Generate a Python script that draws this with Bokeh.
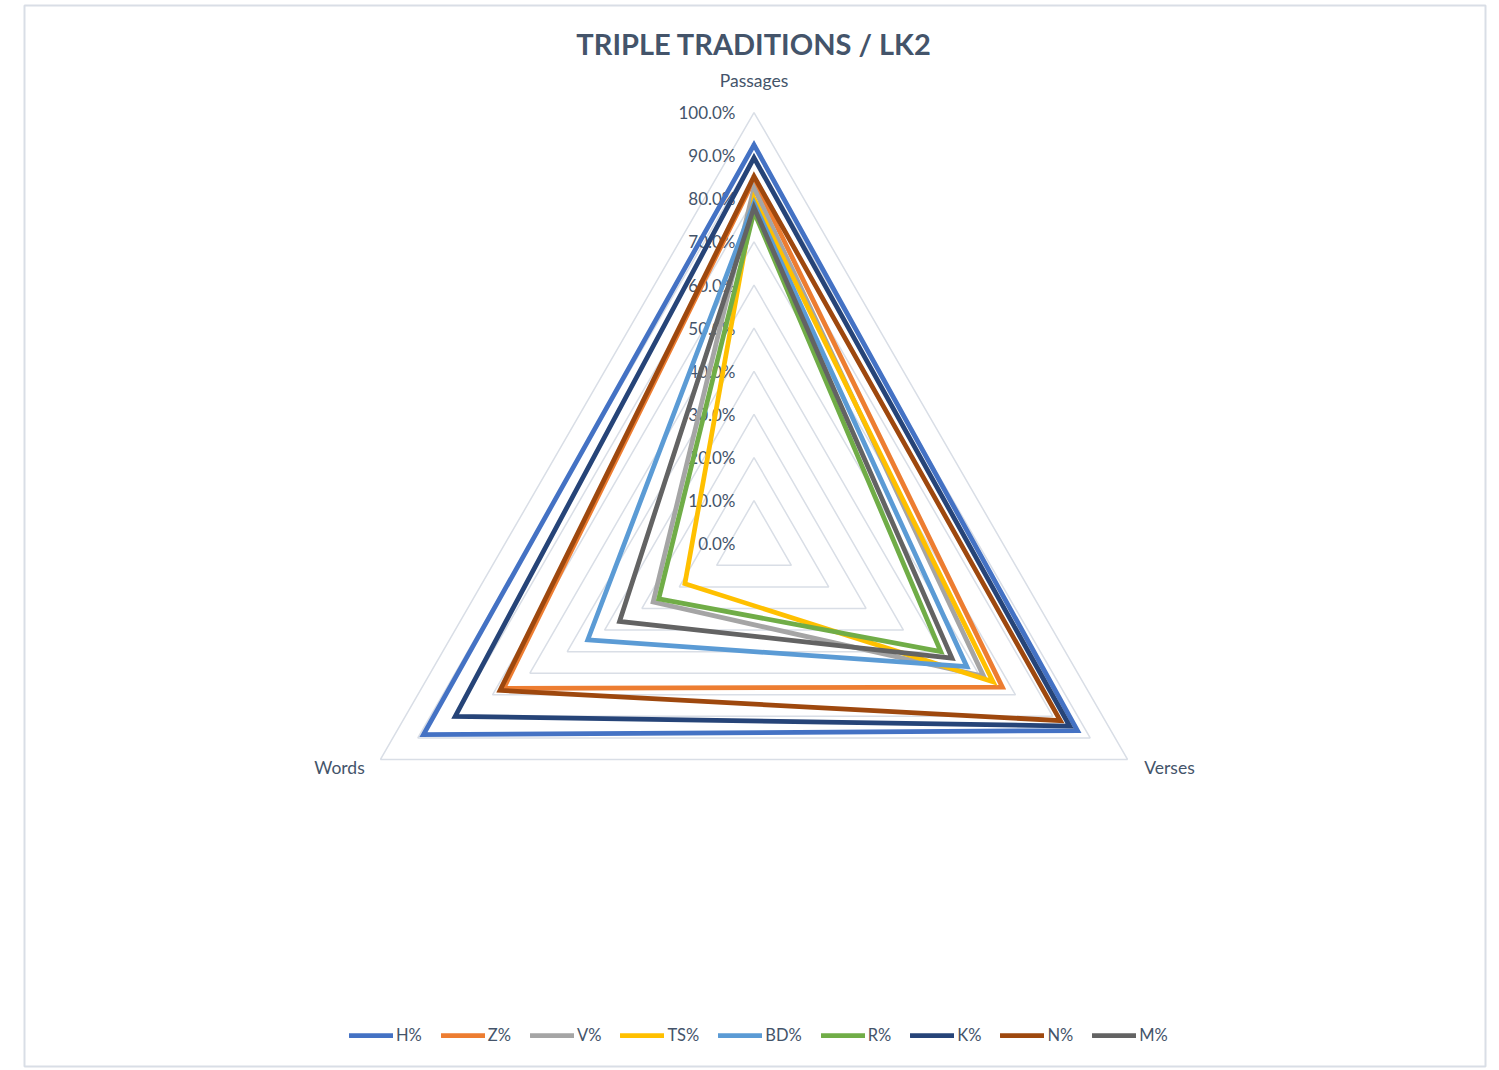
import math
from bokeh.plotting import figure
from bokeh.models import Range1d, Legend, LegendItem
from bokeh.core.properties import value
from bokeh.embed import file_html
from bokeh.resources import INLINE

# ---------------- data ----------------
categories = ["Passages", "Verses", "Words"]
series_names = ["H%", "Z%", "V%", "TS%", "BD%", "R%", "K%", "N%", "M%"]
passages = [0.925, 0.845, 0.825, 0.800, 0.790, 0.770, 0.895, 0.852, 0.780]
verses   = [0.866, 0.665, 0.615, 0.640, 0.570, 0.500, 0.845, 0.820, 0.530]
words    = [0.885, 0.670, 0.270, 0.185, 0.445, 0.255, 0.800, 0.680, 0.360]
colors = ["#4472C4", "#ED7D31", "#A5A5A5", "#FFC000", "#5B9BD5",
          "#70AD47", "#264478", "#9E480E", "#636363"]
tick_values = [0.0, 0.1, 0.2, 0.3, 0.4, 0.5, 0.6, 0.7, 0.8, 0.9, 1.0]
tick_labels = ["0.0%", "10.0%", "20.0%", "30.0%", "40.0%", "50.0%",
               "60.0%", "70.0%", "80.0%", "90.0%", "100.0%"]
title_text = "TRIPLE TRADITIONS / LK2"

# ---------------- layout ----------------
W, H = 1495, 1068
SCALE = 431.3            # pixels per 100 %
CX, CY = 753.5, 543.3    # centre of the radar in canvas pixels
TEXT = "#44546A"
GRID = "#D9DEE6"
FONT = "Lato"

def px(x, y):
    """canvas pixel -> data coordinates"""
    return (x - CX) / SCALE, (CY - y) / SCALE

angles = [90.0, -30.0, 210.0]   # Passages, Verses, Words

def pt(v, a):
    r = math.radians(a)
    return v * math.cos(r), v * math.sin(r)

p = figure(width=W, height=H, output_backend="svg", toolbar_location=None,
           x_range=Range1d(-CX / SCALE, (W - CX) / SCALE),
           y_range=Range1d((CY - H) / SCALE, CY / SCALE),
           min_border=0, border_fill_color="white", background_fill_color="white")
p.axis.visible = False
p.grid.visible = False
p.outline_line_color = None

# outer border
bx0, by0 = px(24, 5)
bx1, by1 = px(1485, 1066)
p.quad(left=bx0, right=bx1, top=by0, bottom=by1, fill_color=None,
       line_color="#D9DEE6", line_width=2)

# grid rings
for v in tick_values[1:]:
    xs = [pt(v, a)[0] for a in angles]
    ys = [pt(v, a)[1] for a in angles]
    p.patch(xs, ys, fill_color=None, line_color=GRID, line_width=1.5)

# tick labels
lx, _ = px(735, 0)
p.text(x=[lx] * len(tick_values), y=tick_values, text=tick_labels,
       text_align="right", text_baseline="middle", text_color=TEXT,
       text_font=value(FONT), text_font_size="17px")

# category labels
cat_pos = [px(753.5, 80), px(1169, 767), px(339, 767)]
p.text(x=[c[0] for c in cat_pos], y=[c[1] for c in cat_pos], text=categories,
       text_align="center", text_baseline="middle", text_color=TEXT,
       text_font=value(FONT), text_font_size="17.5px")

# title
tx, ty = px(753.5, 43)
p.text(x=[tx], y=[ty], text=[title_text], text_align="center",
       text_baseline="middle", text_color=TEXT, text_font=value(FONT),
       text_font_size="29px", text_font_style="bold")

# series
items = []
for i, name in enumerate(series_names):
    vals = [passages[i], verses[i], words[i]]
    pts = [pt(v, a) for v, a in zip(vals, angles)]
    pts = pts + pts[:2]   # wrap so every corner gets a mitred join
    r = p.line([q[0] for q in pts], [q[1] for q in pts], line_color=colors[i],
               line_width=4.75, line_join="miter", line_cap="round")
    items.append(LegendItem(label=name, renderers=[r]))

legend = Legend(items=items, orientation="horizontal", location=(349, 23),
                glyph_width=44, glyph_height=20, label_height=20,
                label_standoff=3, spacing=19, padding=0, margin=0,
                label_text_font=FONT, label_text_font_size="16.5px",
                label_text_color=TEXT, border_line_color=None,
                background_fill_alpha=0)
p.add_layout(legend, "center")

open("out.html", "w").write(file_html(p, INLINE))
